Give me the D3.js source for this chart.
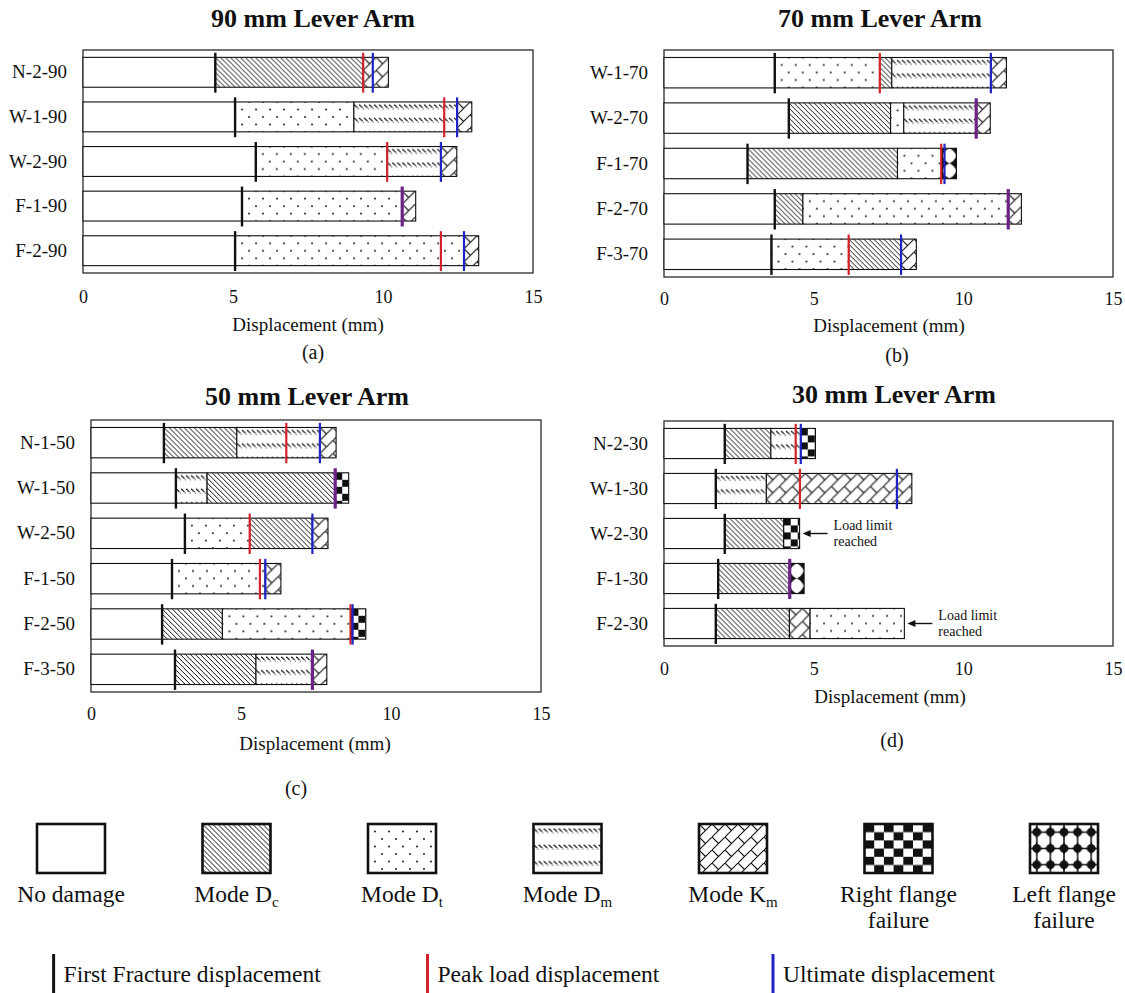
<!DOCTYPE html>
<html><head><meta charset="utf-8">
<script src="https://cdn.jsdelivr.net/npm/d3@7"></script>
<style>
body{margin:0;background:#fff;}
svg text{font-family:"Liberation Serif","Times New Roman","DejaVu Serif",serif;fill:#111;}
</style></head><body>
<svg id="chart" width="1125" height="993"></svg>
<script>
// ---------------- DATA ----------------
const tickValues = [0, 5, 10, 15];

// (a) 90 mm lever arm
const labels90 = ["N-2-90", "W-1-90", "W-2-90", "F-1-90", "F-2-90"];
const fracture90 = [4.41, 5.07, 5.76, 5.30, 5.07];
const segments90 = [
  [["Dc", 9.34], ["Km", 10.18]],
  [["Dt", 9.03], ["Dm", 12.47], ["Km", 12.96]],
  [["Dt", 10.14], ["Dm", 11.93], ["Km", 12.46]],
  [["Dt", 10.64], ["Km", 11.09]],
  [["Dt", 12.70], ["Km", 13.19]]
];
const peak90 = [9.34, 12.04, 10.14, 10.64, 11.93];
const ultimate90 = [9.66, 12.47, 11.93, 10.64, 12.70];

// (b) 70 mm lever arm
const labels70 = ["W-1-70", "W-2-70", "F-1-70", "F-2-70", "F-3-70"];
const fracture70 = [3.70, 4.17, 2.79, 3.70, 3.59];
const segments70 = [
  [["Dt", 7.21], ["Dc", 7.61], ["Dm", 10.92], ["Km", 11.44]],
  [["Dc", 7.57], ["Dt", 8.01], ["Dm", 10.43], ["Km", 10.90]],
  [["Dc", 7.80], ["Dt", 9.30], ["LF", 9.77]],
  [["Dc", 4.64], ["Dt", 11.50], ["Km", 11.94]],
  [["Dt", 6.17], ["Dc", 7.92], ["Km", 8.43]]
];
const peak70 = [7.21, 10.43, 9.26, 11.50, 6.17];
const ultimate70 = [10.92, 10.43, 9.37, 11.50, 7.92];

// (c) 50 mm lever arm
const labels50 = ["N-1-50", "W-1-50", "W-2-50", "F-1-50", "F-2-50", "F-3-50"];
const fracture50 = [2.43, 2.83, 3.13, 2.70, 2.37, 2.80];
const segments50 = [
  [["Dc", 4.86], ["Dm", 7.63], ["Km", 8.17]],
  [["Dm", 3.87], ["Dc", 8.14], ["RF", 8.59]],
  [["Dt", 5.29], ["Dc", 7.38], ["Km", 7.90]],
  [["Dt", 5.81], ["Km", 6.33]],
  [["Dc", 4.38], ["Dt", 8.68], ["RF", 9.16]],
  [["Dc", 5.50], ["Dm", 7.38], ["Km", 7.86]]
];
const peak50 = [6.51, 8.14, 5.29, 5.63, 8.65, 7.38];
const ultimate50 = [7.63, 8.14, 7.38, 5.81, 8.72, 7.38];

// (d) 30 mm lever arm
const labels30 = ["N-2-30", "W-1-30", "W-2-30", "F-1-30", "F-2-30"];
const fracture30 = [2.03, 1.73, 2.03, 1.81, 1.73];
const segments30 = [
  [["Dc", 3.57], ["Dm", 4.57], ["RF", 5.06]],
  [["Dm", 3.42], ["Km", 8.28]],
  [["Dc", 4.00], ["RF", 4.53]],
  [["Dc", 4.20], ["LF", 4.68]],
  [["Dc", 4.19], ["Km", 4.88], ["Dt", 8.03]]
];
const peak30 = [4.40, 4.54, null, 4.20, null];
const ultimate30 = [4.57, 7.78, null, 4.20, null];
const loadLimitRows30 = ["W-2-30", "F-2-30"];
const loadLimitText = ["Load limit", "reached"];

// legend
const legendModes = ["none", "Dc", "Dt", "Dm", "Km", "RF", "LF"];
const legendNames = [
  ["No damage"], [["Mode D", "c"]], [["Mode D", "t"]], [["Mode D", "m"]],
  [["Mode K", "m"]], ["Right flange", "failure"], ["Left flange", "failure"]
];
const lineLegend = ["First Fracture displacement", "Peak load displacement", "Ultimate displacement"];

// ---------------- PATTERNS ----------------
const svg = d3.select("#chart");
const INK = "#111";
const RED = "#d2232a", BLUE = "#1f22c4", PURPLE = "#6a2486";
const defs = svg.append("defs");

function star(p, w, h, k) {
  const cx = w / 2, cy = h / 2, dx = w * k, dy = h * k;
  p.append("path").attr("fill", INK).attr("d",
    `M${cx},0Q${cx + dx},${cy - dy} ${w},${cy}Q${cx + dx},${cy + dy} ${cx},${h}` +
    `Q${cx - dx},${cy + dy} 0,${cy}Q${cx - dx},${cy - dy} ${cx},0Z`);
}
const patternSpec = {
  Dc: { w: 5, h: 5, draw: (p, w, h) => p.append("path")
      .attr("d", `M-1,-1L${w + 1},${h + 1}M${w - 1},-1L${w + 1},1M-1,${h - 1}L1,${h + 1}`)
      .attr("stroke", INK).attr("stroke-width", 1).attr("fill", "none") },
  Dt: { w: 14, h: 15, draw: (p, w, h) => {
      [[0, 0], [w, 0], [0, h], [w, h], [w / 2, h / 2]].forEach(([cx, cy]) =>
        p.append("circle").attr("cx", cx).attr("cy", cy).attr("r", 0.95).attr("fill", INK));
    } },
  Dm: { w: 5, h: 13.4, draw: (p, w, h) => {
      p.append("path").attr("d", "M0.3,2.6L3.6,5.8").attr("stroke", INK).attr("stroke-width", 1.15).attr("fill", "none");
      p.append("circle").attr("cx", 4.3).attr("cy", 6.8).attr("r", 0.55).attr("fill", INK);
    } },
  Dmleg: { w: 5, h: 16.3, draw: (p, w, h) => {
      p.append("path").attr("d", "M0.3,4.5L3.6,7.7").attr("stroke", INK).attr("stroke-width", 1.15).attr("fill", "none");
      p.append("circle").attr("cx", 4.3).attr("cy", 8.7).attr("r", 0.55).attr("fill", INK);
    } },
  Km: { w: 13, h: 13, draw: (p, w, h) => p.append("path")
      .attr("d", `M-1,${h + 1}L${w + 1},-1M0,0L${w / 2},${h / 2}`)
      .attr("stroke", INK).attr("stroke-width", 1.1).attr("fill", "none") },
  RF: { w: 14, h: 14, draw: (p, w, h) => {
      p.append("rect").attr("width", w / 2).attr("height", h / 2).attr("fill", INK);
      p.append("rect").attr("x", w / 2).attr("y", h / 2).attr("width", w / 2).attr("height", h / 2).attr("fill", INK);
    } },
  LF: { w: 14, h: 15, shift: true, draw: (p, w, h) => star(p, w, h, 0.14) },
  LFleg: { w: 13.6, h: 16.3, draw: (p, w, h) => {
      p.append("path").attr("d", `M${w / 2},0V${h}M0,${h / 2}H${w}`).attr("stroke", INK).attr("stroke-width", 1.4);
      star(p, w, h, 0.06);
      p.append("circle").attr("cx", w / 2).attr("cy", h / 2).attr("r", 4.3).attr("fill", INK);
    } },
  RFleg: { w: 19.4, h: 16.4, draw: (p, w, h) => {
      p.append("rect").attr("width", w / 2).attr("height", h / 2).attr("fill", INK);
      p.append("rect").attr("x", w / 2).attr("y", h / 2).attr("width", w / 2).attr("height", h / 2).attr("fill", INK);
    } }
};
let pid = 0;
function fillFor(mode, ox, oy) {
  if (mode === "none") return "#fff";
  const s = patternSpec[mode];
  const id = "p" + (pid++);
  const p = defs.append("pattern").attr("id", id).attr("patternUnits", "userSpaceOnUse")
    .attr("width", s.w).attr("height", s.h)
    .attr("x", s.shift ? ox - s.w / 2 : ox).attr("y", s.shift ? oy - s.h / 2 : oy);
  p.append("rect").attr("width", s.w).attr("height", s.h).attr("fill", "#fff");
  s.draw(p, s.w, s.h);
  return `url(#${id})`;
}

// ---------------- PANELS ----------------
const panels = [
  { labels: labels90, fr: fracture90, seg: segments90, pk: peak90, ul: ultimate90,
    x0: 83, x1: 533, y0: 50, y1: 273, title: "90 mm Lever Arm", tx: 313, ty: 27, tp: 17,
    ax: 308, ay: 331, sub: "(a)", sx: 313, sy: 359 },
  { labels: labels70, fr: fracture70, seg: segments70, pk: peak70, ul: ultimate70,
    x0: 664, x1: 1113, y0: 50, y1: 277, title: "70 mm Lever Arm", tx: 880, ty: 27, tp: 15,
    ax: 889, ay: 332, sub: "(b)", sx: 897, sy: 362 },
  { labels: labels50, fr: fracture50, seg: segments50, pk: peak50, ul: ultimate50,
    x0: 91, x1: 541, y0: 420, y1: 692, title: "50 mm Lever Arm", tx: 307, ty: 405, tp: 15,
    ax: 315, ay: 750, sub: "(c)", sx: 296, sy: 795 },
  { labels: labels30, fr: fracture30, seg: segments30, pk: peak30, ul: ultimate30,
    x0: 664, x1: 1113, y0: 421, y1: 646, title: "30 mm Lever Arm", tx: 894, ty: 403, tp: 16,
    ax: 890, ay: 703, sub: "(d)", sx: 892, sy: 747, annot: loadLimitRows30 }
];

panels.forEach(cfg => {
  const g = svg.append("g");
  const x = d3.scaleLinear().domain([0, 15]).range([cfg.x0, cfg.x1]);
  const y = d3.scaleBand().domain(cfg.labels).range([cfg.y0, cfg.y1])
    .paddingInner(0.33).paddingOuter(0.165);
  const bw = y.bandwidth();

  g.append("rect").attr("x", cfg.x0).attr("y", cfg.y0)
    .attr("width", cfg.x1 - cfg.x0).attr("height", cfg.y1 - cfg.y0)
    .attr("fill", "none").attr("stroke", "#3a3a3a").attr("stroke-width", 1.4);

  cfg.labels.forEach((lab, i) => {
    const parts = [["none", cfg.fr[i]]].concat(cfg.seg[i]);
    let start = 0;
    parts.forEach(([mode, end]) => {
      g.append("rect").attr("x", x(start)).attr("y", y(lab))
        .attr("width", x(end) - x(start)).attr("height", bw)
        .attr("fill", fillFor(mode, x(start), y(lab)))
        .attr("stroke", INK).attr("stroke-width", 1.1);
      start = end;
    });
  });

  const mark = (lab, v, color, w) => g.append("line")
    .attr("x1", x(v)).attr("x2", x(v))
    .attr("y1", y(lab) - 4.6).attr("y2", y(lab) + bw + 5.4)
    .attr("stroke", color).attr("stroke-width", w);

  cfg.labels.forEach((lab, i) => {
    mark(lab, cfg.fr[i], INK, 2.4);
    const p = cfg.pk[i], u = cfg.ul[i];
    if (p === null || u === null) return;
    if (Math.abs(p - u) < 0.03) { mark(lab, p, PURPLE, 3.2); }
    else { mark(lab, p, RED, 2.2); mark(lab, u, BLUE, 2.2); }
  });

  const xa = g.append("g").attr("transform", `translate(0,${cfg.y1})`)
    .call(d3.axisBottom(x).tickValues(tickValues).tickSize(0).tickPadding(cfg.tp));
  xa.select(".domain").remove();
  xa.attr("font-family", null).attr("font-size", null);
  xa.selectAll("text").attr("font-size", 18).attr("fill", INK);

  const ya = g.append("g").attr("transform", `translate(${cfg.x0},0)`)
    .call(d3.axisLeft(y).tickSize(0).tickPadding(16));
  ya.select(".domain").remove();
  ya.attr("font-family", null).attr("font-size", null);
  ya.selectAll("text").attr("font-size", 19).attr("fill", INK);

  g.append("text").attr("x", cfg.tx).attr("y", cfg.ty).attr("text-anchor", "middle")
    .attr("font-size", 26).attr("font-weight", "bold").text(cfg.title);
  g.append("text").attr("x", cfg.ax).attr("y", cfg.ay).attr("text-anchor", "middle")
    .attr("font-size", 19).text("Displacement (mm)");
  g.append("text").attr("x", cfg.sx).attr("y", cfg.sy).attr("text-anchor", "middle")
    .attr("font-size", 20).text(cfg.sub);

  if (cfg.annot) {
    cfg.annot.forEach(lab => {
      const i = cfg.labels.indexOf(lab);
      const parts = cfg.seg[i];
      const endV = parts[parts.length - 1][1];
      const tip = x(endV) + 3, yc = y(lab) + bw / 2;
      g.append("line").attr("x1", tip + 6).attr("x2", tip + 25).attr("y1", yc).attr("y2", yc)
        .attr("stroke", INK).attr("stroke-width", 1.4);
      g.append("path").attr("d", `M${tip},${yc}L${tip + 8},${yc - 3.5}L${tip + 8},${yc + 3.5}Z`).attr("fill", INK);
      loadLimitText.forEach((t, k) => g.append("text").attr("x", tip + 31).attr("y", yc - 4 + k * 16.5)
        .attr("font-size", 14).text(t));
    });
  }
});

// ---------------- LEGEND ----------------
const lg = svg.append("g");
const boxX = d3.scalePoint().domain(legendModes).range([37, 1030]);
const boxW = 68, boxH = 49, boxY = 824;
const legendKey = { RF: "RFleg", LF: "LFleg", Dm: "Dmleg" };
legendModes.forEach((m, i) => {
  const bx = boxX(m);
  const key = legendKey[m] || m;
  lg.append("rect").attr("x", bx).attr("y", boxY).attr("width", boxW).attr("height", boxH)
    .attr("fill", fillFor(key, bx, boxY)).attr("stroke", INK).attr("stroke-width", 2.6);
  legendNames[i].forEach((line, k) => {
    const t = lg.append("text").attr("x", bx + boxW / 2).attr("y", 902 + k * 26)
      .attr("text-anchor", "middle").attr("font-size", 23.5);
    if (Array.isArray(line)) {
      t.append("tspan").text(line[0]);
      t.append("tspan").attr("font-size", 15).attr("dy", 5).text(line[1]);
    } else t.text(line);
  });
});

const lineColors = [INK, RED, BLUE];
const lineX = [53.6, 427.5, 773];
lineLegend.forEach((name, i) => {
  lg.append("line").attr("x1", lineX[i]).attr("x2", lineX[i]).attr("y1", 954).attr("y2", 993)
    .attr("stroke", lineColors[i]).attr("stroke-width", 3);
  lg.append("text").attr("x", lineX[i] + 10).attr("y", 982).attr("font-size", 23.5).text(name);
});
</script>
</body></html>
